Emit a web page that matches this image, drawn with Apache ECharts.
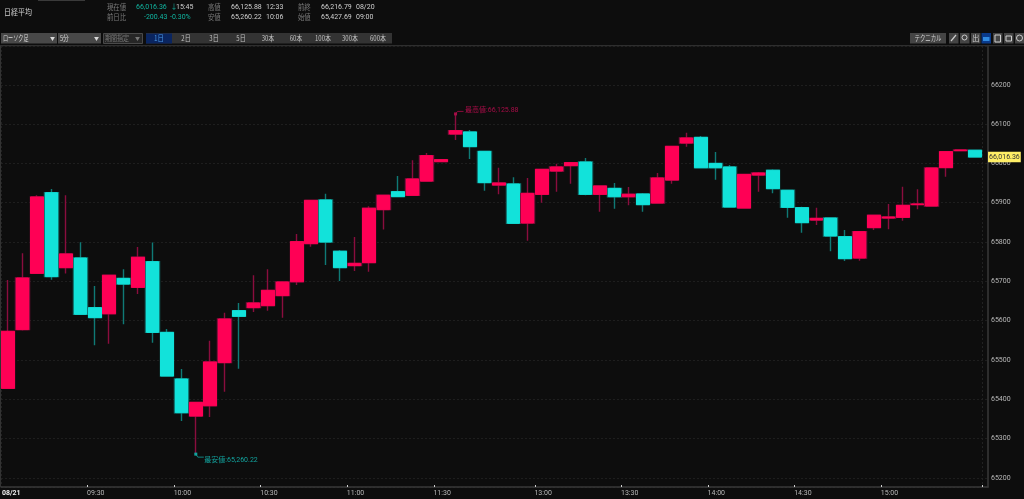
<!DOCTYPE html>
<html><head><meta charset="utf-8">
<style>html,body{margin:0;padding:0;background:#0d0d0d}#c{width:1024px;height:499px}</style>
<script src="https://cdn.jsdelivr.net/npm/echarts@6/dist/echarts.min.js"></script></head>
<body><div id="c"></div>
<script>
const times = ['09:00','09:05','09:10','09:15','09:20','09:25','09:30','09:35','09:40','09:45','09:50','09:55','10:00','10:05','10:10','10:15','10:20','10:25','10:30','10:35','10:40','10:45','10:50','10:55','11:00','11:05','11:10','11:15','11:20','11:25','11:30','12:30','12:35','12:40','12:45','12:50','12:55','13:00','13:05','13:10','13:15','13:20','13:25','13:30','13:35','13:40','13:45','13:50','13:55','14:00','14:05','14:10','14:15','14:20','14:25','14:30','14:35','14:40','14:45','14:50','14:55','15:00','15:05','15:10','15:15','15:20','15:25','15:30'];
const opens = [65427.69,65577,65720.3,65925.5,65734.7,65759.3,65633,65617.6,65707.5,65684.6,65750,65570,65451.4,65357.2,65383.5,65493,65625.3,65632.9,65638,65663.5,65699,65795.8,65906.9,65776.3,65739.8,65747.4,65882.3,65928,65918.8,65955,66004.4,66074.8,66079.9,66030.7,65945,65947.6,65848.3,65921.3,65980.6,65994.2,66003.5,65921.3,65936.5,65915.3,65922.1,65899.2,65957.7,66051.9,66066.3,66000,65990.8,65886.5,65970.4,65982.4,65931.5,65887.4,65856,65861,65813.6,65759.3,65836.5,65861,65862.8,65895,65891.6,65989.2,66032.4,66033.3];
const closes = [65572.7,65708.4,65914.5,65711.8,65769.5,65616,65607.5,65715.2,65693,65761,65570,65459,65365.7,65392,65494.6,65604,65610.9,65644.8,65677,65698.2,65800.9,65906,65800,65734.7,65745.7,65885.7,65918.8,65915.4,65960.3,66019.7,66009.5,66083.3,66042.6,65951,65950,65847.5,65923.8,65984.9,65990.8,66001.8,65921.3,65942.5,65915.3,65921.3,65895,65962.8,66043.4,66064.6,65989,65989,65889,65972,65975.5,65935.7,65888.2,65849.2,65860.2,65815.3,65757.6,65826.3,65867.9,65863.6,65893.3,65896.7,65988.3,66029.9,66034.1,66016.36];
const lows = [65425.9,65575,65718.6,65704,65720,65616,65537,65541,65591,65667.7,65543.8,65459,65344.5,65260.22,65354.7,65419,65477.7,65621.9,65625,65607.5,65690.6,65788,65741.5,65700.8,65726.2,65724.5,65832,65915,65918.8,65955,66004.4,66059.6,66011.2,65930.6,65921.3,65847.5,65803.4,65900,65928,65948.4,65918.7,65877.1,65884.8,65893.3,65877.1,65899,65948.4,66042.5,65989,65958.6,65889,65884.8,65928,65923.8,65861.9,65823.8,65843.3,65776.3,65751.7,65752.5,65830.5,65832.2,65854.3,65883.1,65891.6,65966.3,66032.4,66016.36];
const highs = [65703.3,65771.2,65918.8,65934.9,65918.8,65799.2,65688,65715.2,65730.4,65787.3,65799,65578.6,65476.8,65392,65549,65620,65644.8,65715.2,65730.5,65698.2,65820.4,65906,65923,65779.7,65812.7,65890.8,65918.8,65968,66007.8,66026.5,66009.5,66125.88,66085,66030.7,65989,65964.5,65962.8,65984.9,65999.3,66003.5,66013.7,65942.5,65950,65939.9,65924.6,65975.5,66043.4,66078.2,66069.7,66029,65995.9,65972,65978,65984.9,65931.5,65889.9,65887.4,65862.8,65830.5,65826.3,65867.9,65896.7,65940.8,65934,65988.3,66029.9,66034.1,66033.3];
const shownTimes = ['09:30','10:00','10:30','11:00','11:30','13:00','13:30','14:00','14:30','15:00'];
const dateLabel = '08/21';
const sessionBreak = '12:30';
const lastPriceLabel = '66,016.36';
const highLabel = '最高値:66,125.88', lowLabel = '最安値:65,260.22';

const RED='#ff0055', CYAN='#12e2da', RED_DIM='#8a0d3e', CYAN_DIM='#0f7a76';
const FONT='Roboto,"Noto Sans CJK JP",sans-serif';
const CJK='"Noto Sans CJK JP",sans-serif';
const yMin=65176.6, yMax=66298.7;

const headerLabels=[['日経平均',4,12,'#d0d0d0',8.5,.82]];
const headerWords=[
 ['現在値',107,7,'#7a7a7a'],['前日比',107,17,'#7a7a7a'],['高値',208,7,'#7a7a7a'],['安値',208,17,'#7a7a7a'],['前終',298,7,'#7a7a7a'],['始値',298,17,'#7a7a7a']];
const headerValues=[
 ['66,016.36',136,7,'#10b5a0'],['↓',170.5,7,'#10b5a0'],['15:45',176,7,'#d0d0d0'],
 ['-200.43',144,17,'#10b5a0'],['-0.30%',170,17,'#10b5a0'],
 ['66,125.88',231,7,'#d0d0d0'],['12:33',266,7,'#d0d0d0'],
 ['65,260.22',231,17,'#d0d0d0'],['10:06',266,17,'#d0d0d0'],
 ['66,216.79',321,7,'#d0d0d0'],['08/20',356,7,'#d0d0d0'],
 ['65,427.69',321,17,'#d0d0d0'],['09:00',356,17,'#d0d0d0']];
const tabNames=['2日','3日','5日','30本','60本','100本','300本','600本'];
const tabCentres=[186,214,241,268,296,323,350,378];

function txt(s,x,y,fill,size,align,font,sx){return {type:'text',x,y,scaleX:sx||1,silent:true,z:50,style:{text:s,fill,font:(size||8)+'px '+(font||FONT),textAlign:align||'left',textVerticalAlign:'middle'}};}
function box(x,y,w,h,fill,stroke){return {type:'rect',silent:true,z:49,shape:{x,y,width:w,height:h},style:{fill,stroke:stroke||null,lineWidth:stroke?1:0}};}
const g=[];
headerLabels.forEach(a=>g.push(txt(a[0],a[1],a[2],a[3],a[4],'left',CJK,a[5])));
headerWords.forEach(a=>g.push(txt(a[0],a[1],a[2],a[3],7.5,'left',CJK,.85)));
headerValues.forEach(a=>g.push(txt(a[0],a[1],a[2],a[3],7)));
g.push(box(38,0,47,1,'#3a3a3a'));
g.push(box(1,33,56,10.5,'#484848'),txt('ローソク足',3,38.5,'#d8d8d8',7.5,'left',CJK,.68),txt('▼',50,38.5,'#d8d8d8',5,'left',CJK));
g.push(box(58,33,43,10.5,'#484848'),txt('5分',60,38.5,'#d8d8d8',7.5,'left',CJK,.75),txt('▼',94,38.5,'#d8d8d8',5,'left',CJK));
g.push(box(103.5,33.5,39,10,'#262626','#4a4a4a'),txt('期間指定',105,38.5,'#777',7.5,'left',CJK,.8),txt('▼',135,38.5,'#777',5,'left',CJK));
g.push(box(146,33,246,10.5,'#333333'));
g.push(box(146,33.5,26,10,'#0a2560'),txt('1日',159,38.5,'#4a9ae8',7.5,'center',CJK,.85));
tabNames.forEach((t,i)=>g.push(txt(t,tabCentres[i],38.5,'#c0c0c0',7.5,'center',CJK,.8)));
g.push(box(910,33,36,10.5,'#444'),txt('テクニカル',928,38.5,'#d0d0d0',7.5,'center',CJK,.72));
[[949,'#444'],[960,'#444'],[971,'#444'],[981.5,'#0a3a8a'],[993,'#444'],[1004,'#444'],[1015,'#444']].forEach(a=>g.push(box(a[0],33,9.5,10.5,a[1])));
g.push({type:'polyline',silent:true,z:51,shape:{points:[[951,41],[956,35]]},style:{stroke:'#ccc',lineWidth:1.2,fill:null}});
g.push({type:'circle',silent:true,z:51,shape:{cx:964.5,cy:37.5,r:2.5},style:{stroke:'#ccc',fill:null,lineWidth:1}});
g.push(txt('出',975.7,38.5,'#ccc',7.5,'center',CJK));
g.push(box(983,37,6.5,4,'#2f8ae0'));
g.push(box(995,35,5.5,7,null,'#ccc'),box(1006,36,5.5,5,null,'#ccc'));
g.push({type:'circle',silent:true,z:51,shape:{cx:1019.5,cy:38,r:3},style:{stroke:'#ccc',fill:null,lineWidth:1}});
g.push(box(0,45,1024,1.2,'#2e2e2e'));
g.push(box(0,46,1,441,'#333'));

const wicks=times.map((_,i)=>[opens[i],closes[i],lows[i],highs[i]]);
const bodies=times.map((_,i)=>[opens[i],closes[i],Math.min(opens[i],closes[i]),Math.max(opens[i],closes[i])]);
const iHigh=highs.indexOf(Math.max(...highs)), iLow=lows.indexOf(Math.min(...lows)), iLast=times.length-1, iBreak=times.indexOf(sessionBreak);
const shownIdx=new Set(shownTimes.map(t=>times.indexOf(t)).concat([0]));
const tinyMark=(i,v,color,label,dx,dy)=>({coord:[i,v],symbol:'rect',symbolSize:3,itemStyle:{color,borderWidth:0},
  label:{show:true,formatter:label,position:'right',offset:[dx,dy],color,fontSize:7,fontFamily:FONT,distance:0}});

const chart=echarts.init(document.getElementById('c'),null,{renderer:'canvas'});
chart.setOption({
 animation:false,backgroundColor:'#0d0d0d',
 grid:[{left:1,top:46,width:68*14.43,height:441,outerBoundsMode:'none'},{left:1,top:46,width:987,height:441,outerBoundsMode:'none'}],
 xAxis:[
  {type:'category',gridIndex:0,data:times,boundaryGap:true,
   axisLine:{show:false},
   axisTick:{show:true,inside:true,length:2,alignWithLabel:false,lineStyle:{color:'#cfcfcf'},interval:(i)=>shownIdx.has(i)&&i>0},
   splitLine:{show:true,interval:(i)=>i===iBreak,lineStyle:{color:'#222222',type:[2,2],width:1}},
   axisLabel:{show:true,interval:(i)=>shownIdx.has(i),margin:3,fontSize:7,fontFamily:FONT,color:'#b8b8b8',hideOverlap:false,
     formatter:(v,i)=>i===0?'{d|'+dateLabel+'}':'{t|'+v+'}',
     rich:{d:{color:'#f0f0f0',fontWeight:'bold',fontSize:7,fontFamily:FONT,padding:[0,0,0,6]},t:{color:'#b8b8b8',fontSize:7,fontFamily:FONT,padding:[0,0,0,2]}}}},
  {type:'category',gridIndex:1,data:[''],axisLine:{show:true,lineStyle:{color:'#383838',width:1.5}},axisTick:{show:false},axisLabel:{show:false},splitLine:{show:false}}
 ],
 yAxis:[
  {type:'value',gridIndex:0,min:yMin,max:yMax,show:false,splitLine:{show:false}},
  {type:'value',gridIndex:1,min:yMin,max:yMax,splitNumber:11,position:'right',
   axisLine:{show:true,lineStyle:{color:'#383838',width:1.5}},axisTick:{show:false},
   splitLine:{show:true,lineStyle:{color:'#1e1e1e',type:[2,2],width:1}},
   axisLabel:{show:true,margin:3,fontSize:7,fontFamily:FONT,color:'#b8b8b8',showMinLabel:false,showMaxLabel:false,formatter:v=>String(v)}}
 ],
 series:[
  {name:'wicks',type:'candlestick',xAxisIndex:0,yAxisIndex:0,barWidth:14,data:wicks,z:3,
   itemStyle:{color:RED_DIM,color0:CYAN_DIM,borderColor:RED_DIM,borderColor0:CYAN_DIM,borderWidth:1.4}},
  {name:'bodies',type:'candlestick',xAxisIndex:0,yAxisIndex:0,barWidth:13,data:bodies,z:4,
   itemStyle:{color:RED,color0:CYAN,borderColor:RED,borderColor0:CYAN,borderWidth:1},
   markPoint:{silent:true,animation:false,data:[
     tinyMark(iHigh,highs[iHigh],'#a80d48',highLabel,8,-4),
     tinyMark(iLow,lows[iLow],'#12a39e',lowLabel,7,6),
     {coord:[iLast,closes[iLast]],symbol:'rect',symbolSize:0.01,
      label:{show:true,formatter:lastPriceLabel,position:'right',offset:[13,0],distance:0,color:'#333',fontSize:7,fontFamily:FONT,backgroundColor:'#ffee66',padding:[2,1,1.5,1]}}
   ]}}
 ],
 graphic:g
});
const pHigh=chart.convertToPixel({gridIndex:0},[iHigh,highs[iHigh]]);
const pLow=chart.convertToPixel({gridIndex:0},[iLow,lows[iLow]]);
g.push({type:'polyline',silent:true,z:51,shape:{points:[[pHigh[0],pHigh[1]],[pHigh[0]+2,pHigh[1]-2.5],[pHigh[0]+8,pHigh[1]-2.5]]},style:{stroke:'#a80d48',lineWidth:0.8,fill:null}});
g.push({type:'polyline',silent:true,z:51,shape:{points:[[pLow[0],pLow[1]],[pLow[0]+2,pLow[1]+3],[pLow[0]+8,pLow[1]+3]]},style:{stroke:'#12a39e',lineWidth:0.8,fill:null}});
chart.setOption({graphic:g});
</script></body></html>
